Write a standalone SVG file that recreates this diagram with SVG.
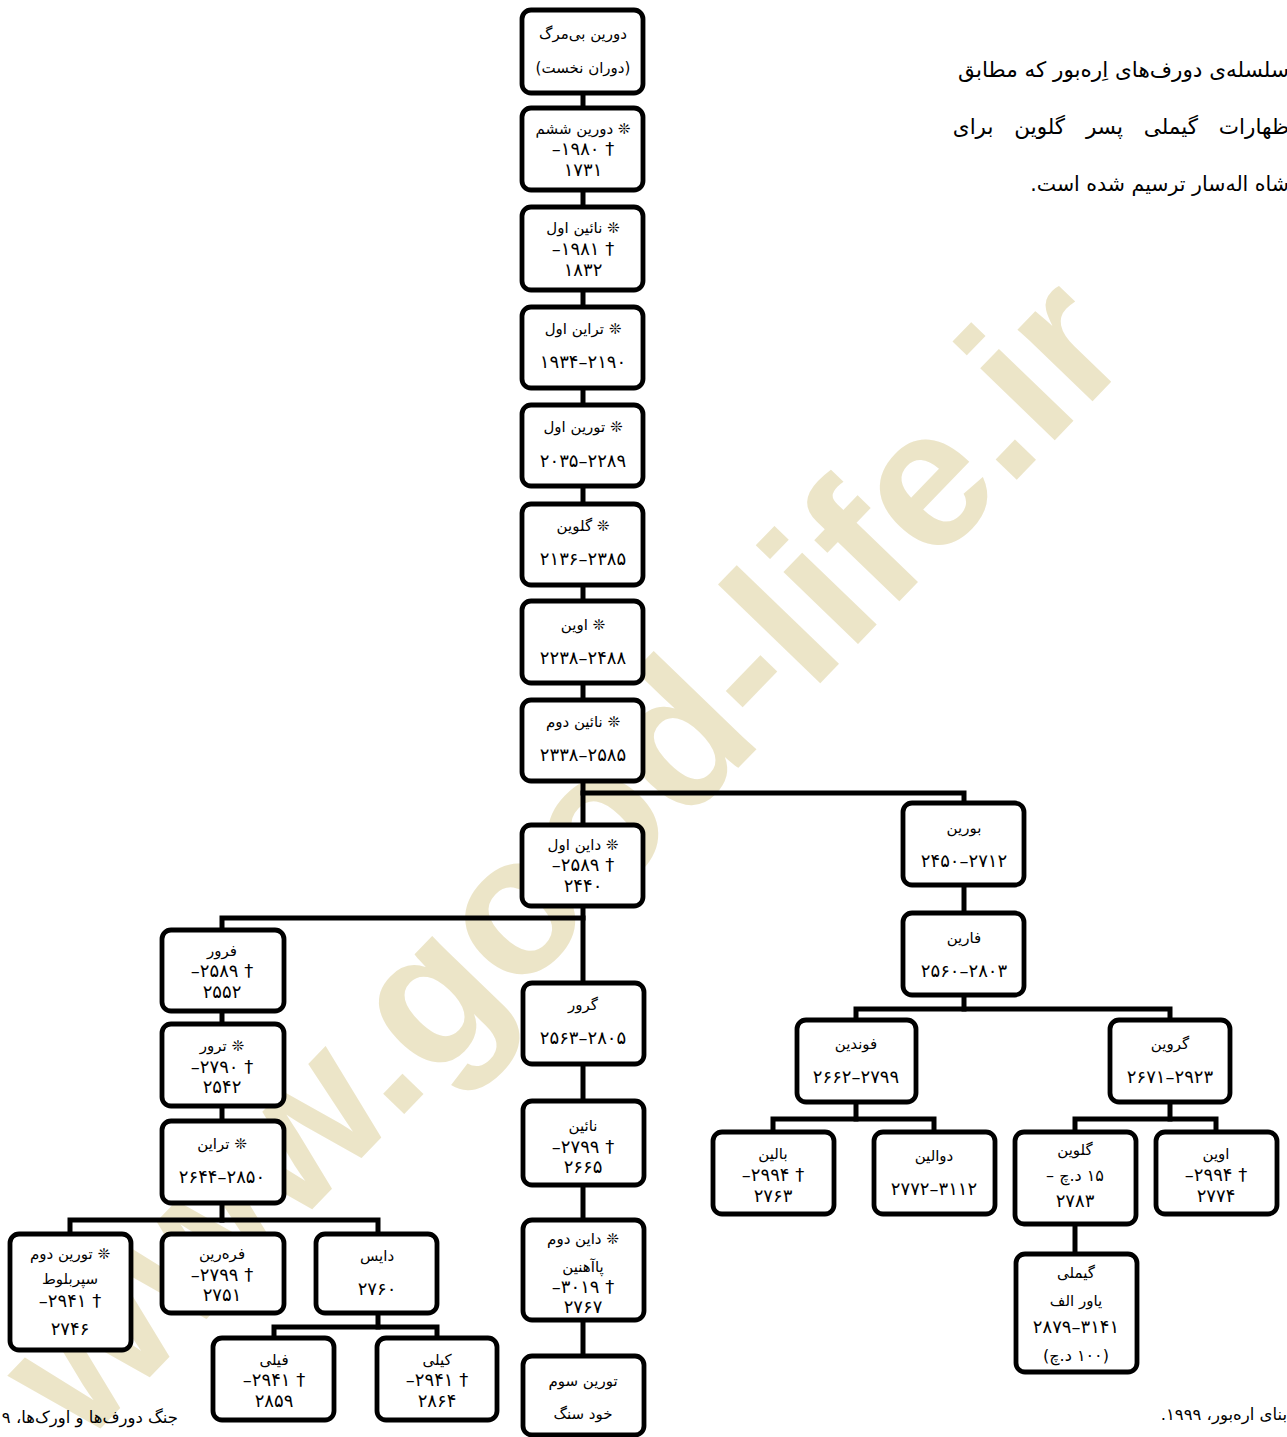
<svg xmlns="http://www.w3.org/2000/svg" width="1287" height="1437" viewBox="0 0 1287 1437">
<style>
.bg{fill:#ffffff}
.wm{font-family:"Liberation Sans",Arial,sans-serif;font-weight:bold;font-size:196px;fill:#ece5c8}
.box{fill:#ffffff;stroke:#000000;stroke-width:4.8}
.c{fill:none;stroke:#000000;stroke-width:5;stroke-linecap:square}
.t{font-family:"DejaVu Sans","Noto Sans",sans-serif;font-size:15px;fill:#000000;text-anchor:middle}
.d{font-family:"DejaVu Sans","Noto Sans",sans-serif;font-size:18px;fill:#000000;text-anchor:middle}
.r{direction:rtl}
.p{font-family:"DejaVu Sans","Noto Sans",sans-serif;font-size:21.5px;fill:#000000;direction:rtl;text-anchor:start}
.f{font-family:"DejaVu Sans","Noto Sans",sans-serif;font-size:16.5px;fill:#000000;direction:rtl;text-anchor:start}
</style>
<rect class="bg" x="0" y="0" width="1287" height="1437"/>
<text class="wm" transform="translate(566,860) rotate(-46)" x="0" y="60" text-anchor="middle">www.good-life.ir</text>

<g id="connectors">
<path class="c" d="M583,93 V825"/>
<path class="c" d="M583,793 H964 V803"/>
<path class="c" d="M964,885 V913"/>
<path class="c" d="M964,995 V1009"/>
<path class="c" d="M856,1020 V1009 H1170 V1020"/>
<path class="c" d="M856,1102 V1119"/>
<path class="c" d="M773,1132 V1119 H934 V1132"/>
<path class="c" d="M1170,1102 V1119"/>
<path class="c" d="M1075,1132 V1119 H1216 V1132"/>
<path class="c" d="M1075,1224 V1254"/>
<path class="c" d="M583,906 V1356"/>
<path class="c" d="M583,918 H222 V930"/>
<path class="c" d="M222,1011 V1121"/>
<path class="c" d="M222,1203 V1220"/>
<path class="c" d="M70,1234 V1220 H378 V1234"/>
<path class="c" d="M378,1313 V1327"/>
<path class="c" d="M274,1338 V1327 H437 V1338"/>
</g>

<g id="durin1"><rect class="box" x="522" y="10" width="121" height="83" rx="9"/>
<text class="t r" x="583" y="39">دورین بی‌مرگ</text>
<text class="t r" x="583" y="73">(دوران نخست)</text></g>

<g id="durin6"><rect class="box" x="522" y="108" width="121" height="82" rx="9"/>
<text class="t r" x="583" y="134">❊ دورین ششم</text>
<text class="d" x="583" y="155">–۱۹۸۰ †</text>
<text class="d" x="583" y="176">۱۷۳۱</text></g>

<g id="nain1"><rect class="box" x="522" y="207" width="121" height="83" rx="9"/>
<text class="t r" x="583" y="233">❊ نائین اول</text>
<text class="d" x="583" y="255">–۱۹۸۱ †</text>
<text class="d" x="583" y="276">۱۸۳۲</text></g>

<g id="thrain1"><rect class="box" x="522" y="307" width="121" height="81" rx="9"/>
<text class="t r" x="583" y="334">❊ تراین اول</text>
<text class="d" x="583" y="368">۱۹۳۴–۲۱۹۰</text></g>

<g id="thorin1"><rect class="box" x="522" y="405" width="121" height="81" rx="9"/>
<text class="t r" x="583" y="432">❊ تورین اول</text>
<text class="d" x="583" y="467">۲۰۳۵–۲۲۸۹</text></g>

<g id="gloin1"><rect class="box" x="522" y="504" width="121" height="81" rx="9"/>
<text class="t r" x="583" y="531">❊ گلوین</text>
<text class="d" x="583" y="565">۲۱۳۶–۲۳۸۵</text></g>

<g id="oin1"><rect class="box" x="522" y="601" width="121" height="82" rx="9"/>
<text class="t r" x="583" y="630">❊ اوین</text>
<text class="d" x="583" y="664">۲۲۳۸–۲۴۸۸</text></g>

<g id="nain2"><rect class="box" x="522" y="700" width="121" height="81" rx="9"/>
<text class="t r" x="583" y="727">❊ نائین دوم</text>
<text class="d" x="583" y="761">۲۳۳۸–۲۵۸۵</text></g>

<g id="dain1"><rect class="box" x="522" y="825" width="121" height="81" rx="9"/>
<text class="t r" x="583" y="850">❊ داین اول</text>
<text class="d" x="583" y="871">–۲۵۸۹ †</text>
<text class="d" x="583" y="892">۲۴۴۰</text></g>

<g id="borin"><rect class="box" x="903" y="803" width="121" height="82" rx="9"/>
<text class="t r" x="964" y="833">بورین</text>
<text class="d" x="964" y="867">۲۴۵۰–۲۷۱۲</text></g>

<g id="farin"><rect class="box" x="903" y="913" width="121" height="82" rx="9"/>
<text class="t r" x="964" y="943">فارین</text>
<text class="d" x="964" y="977">۲۵۶۰–۲۸۰۳</text></g>

<g id="fundin"><rect class="box" x="797" y="1020" width="119" height="82" rx="9"/>
<text class="t r" x="856" y="1049">فوندین</text>
<text class="d" x="856" y="1083">۲۶۶۲–۲۷۹۹</text></g>

<g id="groin"><rect class="box" x="1110" y="1020" width="120" height="82" rx="9"/>
<text class="t r" x="1170" y="1049">گروین</text>
<text class="d" x="1170" y="1083">۲۶۷۱–۲۹۲۳</text></g>

<g id="balin"><rect class="box" x="713" y="1132" width="121" height="82" rx="9"/>
<text class="t r" x="773" y="1159">بالین</text>
<text class="d" x="773" y="1181">–۲۹۹۴ †</text>
<text class="d" x="773" y="1202">۲۷۶۳</text></g>

<g id="dwalin"><rect class="box" x="874" y="1132" width="121" height="82" rx="9"/>
<text class="t r" x="934" y="1161">دوالین</text>
<text class="d" x="934" y="1195">۲۷۷۲–۳۱۱۲</text></g>

<g id="gloin2"><rect class="box" x="1015" y="1132" width="121" height="92" rx="9"/>
<text class="t r" x="1075" y="1155">گلوین</text>
<text class="t r" x="1075" y="1181" style="font-size:16px">۱۵ د.چ –</text>
<text class="d" x="1075" y="1207">۲۷۸۳</text></g>

<g id="oin2"><rect class="box" x="1156" y="1132" width="121" height="82" rx="9"/>
<text class="t r" x="1216" y="1159">اوین</text>
<text class="d" x="1216" y="1181">–۲۹۹۴ †</text>
<text class="d" x="1216" y="1202">۲۷۷۴</text></g>

<g id="gimli"><rect class="box" x="1016" y="1254" width="121" height="118" rx="9"/>
<text class="t r" x="1076" y="1278">گیملی</text>
<text class="t r" x="1076" y="1306">یاور الف</text>
<text class="d" x="1076" y="1333">۲۸۷۹–۳۱۴۱</text>
<text class="t r" x="1076" y="1361" style="font-size:16px">(۱۰۰ د.چ)</text></g>

<g id="fror"><rect class="box" x="162" y="930" width="122" height="81" rx="9"/>
<text class="t r" x="222" y="956">فرور</text>
<text class="d" x="222" y="977">–۲۵۸۹ †</text>
<text class="d" x="222" y="998">۲۵۵۲</text></g>

<g id="thror"><rect class="box" x="162" y="1024" width="122" height="82" rx="9"/>
<text class="t r" x="222" y="1051">❊ ترور</text>
<text class="d" x="222" y="1073">–۲۷۹۰ †</text>
<text class="d" x="222" y="1093">۲۵۴۲</text></g>

<g id="thrain2"><rect class="box" x="162" y="1121" width="122" height="82" rx="9"/>
<text class="t r" x="222" y="1149">❊ تراین</text>
<text class="d" x="222" y="1183">۲۶۴۴–۲۸۵۰</text></g>

<g id="thorin2"><rect class="box" x="10" y="1234" width="121" height="116" rx="9"/>
<text class="t r" x="70" y="1259">❊ تورین دوم</text>
<text class="t r" x="70" y="1284">سپربلوط</text>
<text class="d" x="70" y="1307">–۲۹۴۱ †</text>
<text class="d" x="70" y="1335">۲۷۴۶</text></g>

<g id="frerin"><rect class="box" x="162" y="1234" width="122" height="79" rx="9"/>
<text class="t r" x="222" y="1259">فره‌رین</text>
<text class="d" x="222" y="1281">–۲۷۹۹ †</text>
<text class="d" x="222" y="1301">۲۷۵۱</text></g>

<g id="dis"><rect class="box" x="316" y="1234" width="121" height="79" rx="9"/>
<text class="t r" x="377" y="1261">دایس</text>
<text class="d" x="377" y="1295">۲۷۶۰</text></g>

<g id="fili"><rect class="box" x="213" y="1338" width="121" height="82" rx="9"/>
<text class="t r" x="274" y="1365">فیلی</text>
<text class="d" x="274" y="1386">–۲۹۴۱ †</text>
<text class="d" x="274" y="1407">۲۸۵۹</text></g>

<g id="kili"><rect class="box" x="377" y="1338" width="120" height="82" rx="9"/>
<text class="t r" x="437" y="1365">کیلی</text>
<text class="d" x="437" y="1386">–۲۹۴۱ †</text>
<text class="d" x="437" y="1407">۲۸۶۴</text></g>

<g id="gror"><rect class="box" x="523" y="983" width="121" height="81" rx="9"/>
<text class="t r" x="583" y="1010">گرور</text>
<text class="d" x="583" y="1044">۲۵۶۳–۲۸۰۵</text></g>

<g id="nain3"><rect class="box" x="523" y="1101" width="121" height="84" rx="9"/>
<text class="t r" x="583" y="1131">نائین</text>
<text class="d" x="583" y="1153">–۲۷۹۹ †</text>
<text class="d" x="583" y="1173">۲۶۶۵</text></g>

<g id="dain2"><rect class="box" x="523" y="1220" width="121" height="100" rx="9"/>
<text class="t r" x="583" y="1244">❊ داین دوم</text>
<text class="t r" x="583" y="1272">پاآهنین</text>
<text class="d" x="583" y="1293">–۳۰۱۹ †</text>
<text class="d" x="583" y="1313">۲۷۶۷</text></g>

<g id="thorin3"><rect class="box" x="523" y="1356" width="121" height="79" rx="9"/>
<text class="t r" x="583" y="1386">تورین سوم</text>
<text class="t r" x="583" y="1419">خود سنگ</text></g>

<g id="caption">
<text class="p" x="1289" y="77">سلسله‌ی دورف‌های اِره‌بور که مطابق</text>
<text class="p" x="1289" y="134" word-spacing="14">ظهارات گیملی پسر گلوین برای</text>
<text class="p" x="1289" y="191" style="font-size:20.5px">شاه اله‌سار ترسیم شده است.</text>
</g>
<text class="f" x="178" y="1423">جنگ دورف‌ها و اورک‌ها، ۹</text>
<text class="f" x="1287" y="1420">بنای اره‌بور، ۱۹۹۹.</text>
</svg>
